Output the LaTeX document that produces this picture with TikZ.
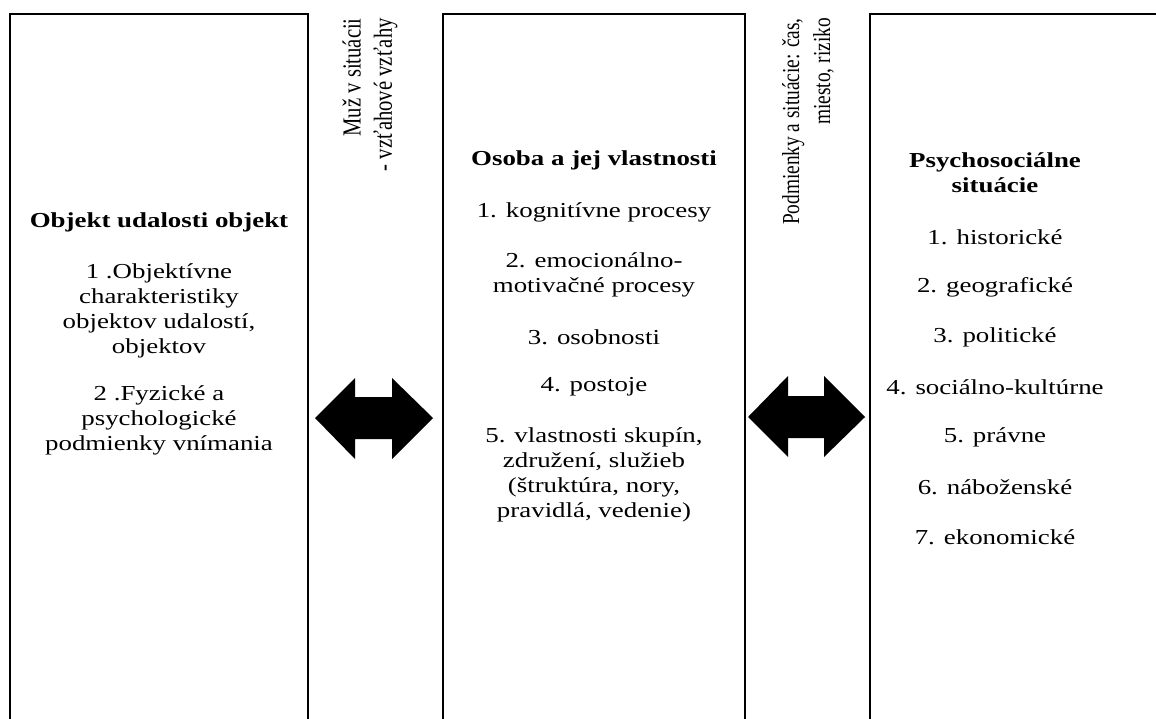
\documentclass[tikz,border=0pt]{standalone}
\usepackage{fontspec}
\setmainfont{Liberation Serif}
\begin{document}
\begin{tikzpicture}[x=0.75pt,y=-0.75pt,
  boxline/.style={line width=1.9pt, line join=miter},
  txt/.style={align=center, font=\fontsize{16}{18.75}\selectfont, inner sep=0pt, xscale=1.26, transform shape},
  ttl/.style={txt, font=\fontsize{16}{18.75}\selectfont\bfseries},
  vtxt/.style={xscale=1.26, rotate=90, transform shape, align=right, inner sep=0pt},
  bigarrow/.style={fill=black, draw=none}]
\useasboundingbox (0,0) rectangle (1156,718);
\clip (0,0) rectangle (1156,718);
% boxes
\draw[boxline] (10,730) -- (10,14) -- (308,14) -- (308,730);
\draw[boxline] (443,730) -- (443,14) -- (745,14) -- (745,730);
\draw[boxline] (870,730) -- (870,14) -- (1200,14);
% left box
\node[ttl] (lt) at (159,222) {Objekt udalosti objekt};
\node[txt] (l1) at (159,310.5) {1 .Objektívne\\charakteristiky\\objektov udalostí,\\objektov};
\node[txt] (l2) at (159,420) {2 .Fyzické a\\psychologické\\podmienky vnímania};
% middle box
\node[ttl] (mt) at (594,160) {Osoba a jej vlastnosti};
\node[txt] (m1) at (594,212) {1. kognitívne procesy};
\node[txt] (m2) at (594,274.5) {2. emocionálno-\\motivačné procesy};
\node[txt] (m3) at (594,337) {3. osobnosti};
\node[txt] (m4) at (594,387) {4. postoje};
\node[txt] (m5) at (594,474.5) {5. vlastnosti skupín,\\združení, služieb\\(štruktúra, nory,\\pravidlá, vedenie)};
% right box
\node[ttl] (rt) at (995,172.5) {Psychosociálne\\situácie};
\node[txt] (r1) at (995,237) {1. historické};
\node[txt] (r2) at (995,287) {2. geografické};
\node[txt] (r3) at (995,337) {3. politické};
\node[txt] (r4) at (995,387) {4. sociálno-kultúrne};
\node[txt] (r5) at (995,437) {5. právne};
\node[txt] (r6) at (995,487) {6. náboženské};
\node[txt] (r7) at (995,537) {7. ekonomické};
% vertical labels
\node[vtxt, anchor=east, font=\fontsize{15.5}{18.5}\selectfont] (v1) at (370,18) {Muž v situácii\\- vzťahové vzťahy};
\node[vtxt, anchor=east, font=\fontsize{14.5}{18.5}\selectfont] (v2) at (808,18) {Podmienky a situácie: čas,\\miesto, riziko};
% double arrows
\fill[bigarrow] (315,418) -- (355,378) -- (355,397) -- (392,397) -- (392,378) -- (433,418)
  -- (392,459) -- (392,439) -- (355,439) -- (355,459) -- cycle;
\fill[bigarrow] (748,417) -- (788,376) -- (788,396) -- (824,396) -- (824,376) -- (865,417)
  -- (824,457) -- (824,438) -- (788,438) -- (788,457) -- cycle;
\end{tikzpicture}
\end{document}
